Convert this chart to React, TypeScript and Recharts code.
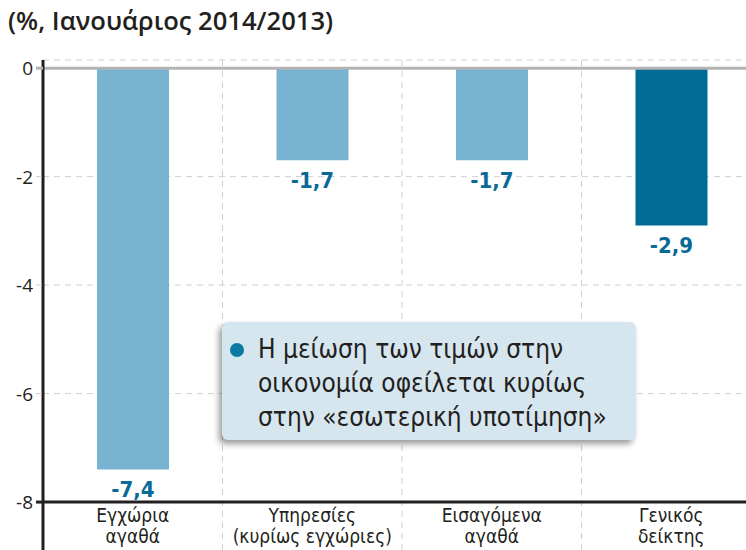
import React from "react";
import {
  Bar,
  BarChart,
  CartesianGrid,
  Cell,
  LabelList,
  ReferenceLine,
  XAxis,
  YAxis,
} from "recharts";

const CATEGORIES = [
  ["Εγχώρια", "αγαθά"],
  ["Υπηρεσίες", "(κυρίως εγχώριες)"],
  ["Εισαγόμενα", "αγαθά"],
  ["Γενικός", "δείκτης"],
];
const VALUES = [-7.4, -1.7, -1.7, -2.9];
const Y_TICKS = [0, -2, -4, -6, -8];
const TITLE = "(%, Ιανουάριος 2014/2013)";
const NOTE_LINES = [
  "Η μείωση των τιμών στην",
  "οικονομία οφείλεται κυρίως",
  "στην «εσωτερική υποτίμηση»",
];

const LIGHT = "#78b4d1";
const DARK = "#006b96";
const LABEL_BLUE = "#0a6a96";
const TEXT = "#231f20";
const NARROW = "'Liberation Sans Narrow', 'DejaVu Sans Condensed', sans-serif";
const SANS = "'Open Sans', 'Noto Sans', sans-serif";

const data = CATEGORIES.map((c, i) => ({
  name: c.join("|"),
  value: VALUES[i],
}));

function YTick({ x, y, payload }: any) {
  const v = payload.value;
  const solid = v === 0 || v === -8;
  const stroke = v === 0 ? "#b3b3b3" : v === -8 ? TEXT : "#cfcfcf";
  return (
    <g>
      <line
        x1={x - 7}
        x2={x}
        y1={y}
        y2={y}
        stroke={stroke}
        strokeWidth={solid ? 3 : 1}
        strokeDasharray={solid ? undefined : "6 5"}
      />
      <text
        x={x - 10}
        y={y}
        textAnchor="end"
        dominantBaseline="central"
        fontFamily={SANS}
        fontSize={19}
        fill={TEXT}
      >
        {v}
      </text>
    </g>
  );
}

function XTick({ x, y, payload }: any) {
  const lines = String(payload.value).split("|");
  return (
    <g>
      {lines.map((l, i) => (
        <text
          key={i}
          x={x}
          y={y - 56 + i * 21}
          textAnchor="middle"
          fontFamily={NARROW}
          fontSize={19}
          fill={TEXT}
        >
          {l}
        </text>
      ))}
    </g>
  );
}

function ValueLabel({ x, y, width, height, value }: any) {
  const bottom = Math.max(y, y + height);
  return (
    <text
      x={x + width / 2}
      y={bottom + 20}
      textAnchor="middle"
      dominantBaseline="central"
      fontFamily={NARROW}
      fontWeight="bold"
      fontSize={22}
      fill={LABEL_BLUE}
    >
      {String(value).replace(".", ",")}
    </text>
  );
}

export default function App() {
  return (
    <div
      style={{
        position: "fixed",
        left: 0,
        top: 0,
        width: 746,
        height: 550,
        overflow: "hidden",
        background: "#fff",
      }}
    >
      <div
        style={{
          position: "absolute",
          left: 8,
          top: 3,
          fontFamily: SANS,
          fontSize: 25.6,
          fontWeight: 600,
          color: TEXT,
          whiteSpace: "nowrap",
        }}
      >
        {TITLE}
      </div>
      <div style={{ position: "absolute", left: 0, top: 0 }}>
        <BarChart
          width={761}
          height={608}
          data={data}
          margin={{ top: 60, right: 0, left: 0, bottom: 0 }}
        >
          <CartesianGrid
            stroke="#d0d0d0"
            strokeDasharray="6 5"
            verticalCoordinatesGenerator={({ offset }: any) =>
              [1, 2, 3].map((i) => offset.left + (i * offset.width) / 4)
            }
          />
          <XAxis
            dataKey="name"
            axisLine={false}
            tickLine={false}
            tickSize={0}
            tickMargin={0}
            height={30}
            tick={<XTick />}
            interval={0}
          />
          <YAxis
            type="number"
            domain={[-9.4, 0.15]}
            ticks={Y_TICKS}
            width={43}
            tickLine={false}
            tickSize={0}
            tickMargin={0}
            axisLine={{ stroke: TEXT, strokeWidth: 3 }}
            tick={<YTick />}
            allowDataOverflow
          />
          <Bar dataKey="value" barSize={72} isAnimationActive={false}>
            {data.map((d, i) => (
              <Cell key={i} fill={i === 3 ? DARK : LIGHT} />
            ))}
            <LabelList dataKey="value" content={<ValueLabel />} />
          </Bar>
          <ReferenceLine y={0} stroke="#b3b3b3" strokeWidth={3} />
          <ReferenceLine y={-8} stroke={TEXT} strokeWidth={3} />
        </BarChart>
      </div>
      <div
        style={{
          position: "absolute",
          left: 222,
          top: 322,
          width: 414,
          height: 118,
          boxSizing: "border-box",
          background: "#d6e6ef",
          borderRadius: 6,
          boxShadow: "-3px 4px 6px rgba(0,0,0,0.4)",
          padding: "10px 0 0 36px",
          fontFamily: NARROW,
          fontSize: 26,
          lineHeight: "34px",
          color: TEXT,
        }}
      >
        <span
          style={{
            position: "absolute",
            left: 8,
            top: 21,
            width: 14,
            height: 14,
            borderRadius: 7,
            background: "#0a7aa3",
          }}
        />
        {NOTE_LINES.map((l, i) => (
          <div key={i} style={{ whiteSpace: "nowrap" }}>
            {l}
          </div>
        ))}
      </div>
    </div>
  );
}
